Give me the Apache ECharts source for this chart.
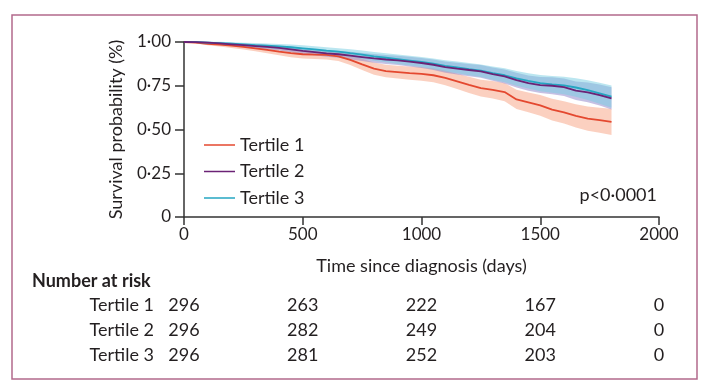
<!DOCTYPE html>
<html>
<head>
<meta charset="utf-8">
<script src="https://cdn.jsdelivr.net/npm/echarts@6/dist/echarts.min.js"></script>
<style>
html,body{margin:0;padding:0;background:#fff;}
#chart{width:711px;height:386px;}
</style>
</head>
<body>
<div id="chart"></div>
<script>
// ---- data ----
const DAYS = [0,50,100,150,200,250,300,350,400,450,500,550,600,650,700,750,800,850,900,950,1000,1050,1100,1150,1200,1250,1300,1350,1400,1450,1500,1550,1600,1650,1700,1750,1800];
const SERIES_NAMES = ['Tertile 1','Tertile 2','Tertile 3'];
const T1 = [1.000,0.996,0.990,0.985,0.979,0.972,0.964,0.955,0.945,0.936,0.930,0.928,0.926,0.918,0.898,0.872,0.848,0.834,0.828,0.822,0.818,0.810,0.795,0.775,0.755,0.736,0.727,0.714,0.672,0.655,0.638,0.614,0.598,0.578,0.562,0.553,0.543];
const T2 = [1.000,0.999,0.996,0.992,0.987,0.982,0.977,0.972,0.966,0.958,0.949,0.942,0.935,0.930,0.922,0.914,0.906,0.900,0.895,0.888,0.880,0.870,0.857,0.848,0.840,0.832,0.816,0.803,0.782,0.765,0.754,0.750,0.742,0.722,0.712,0.697,0.678];
const T3 = [1.000,1.000,0.997,0.994,0.990,0.986,0.982,0.979,0.975,0.970,0.964,0.958,0.951,0.945,0.936,0.928,0.918,0.910,0.902,0.894,0.886,0.876,0.864,0.855,0.845,0.836,0.822,0.810,0.792,0.778,0.765,0.758,0.752,0.740,0.725,0.707,0.688];
const T1_CI = [0,0.004,0.008,0.011,0.013,0.015,0.017,0.019,0.021,0.023,0.024,0.025,0.026,0.027,0.030,0.032,0.035,0.036,0.037,0.038,0.039,0.040,0.042,0.044,0.046,0.048,0.050,0.052,0.055,0.057,0.059,0.062,0.064,0.066,0.069,0.072,0.075];
const T2_CI = [0,0.002,0.005,0.007,0.009,0.010,0.012,0.013,0.014,0.016,0.017,0.018,0.019,0.020,0.022,0.023,0.025,0.026,0.027,0.028,0.029,0.030,0.032,0.033,0.035,0.036,0.038,0.040,0.042,0.044,0.046,0.048,0.050,0.053,0.056,0.060,0.063];
const T3_CI = [0,0.002,0.005,0.007,0.009,0.010,0.012,0.013,0.014,0.016,0.017,0.018,0.019,0.020,0.022,0.023,0.025,0.026,0.027,0.028,0.029,0.030,0.032,0.033,0.035,0.036,0.038,0.040,0.042,0.044,0.046,0.048,0.050,0.053,0.056,0.060,0.063];
const X_TICKS = [0,500,1000,1500,2000];
const RISK_T1 = [296,263,222,167,0];
const RISK_T2 = [296,282,249,204,0];
const RISK_T3 = [296,281,252,203,0];
const P_TEXT = 'p<0·0001';

// ---- styles ----
const FONT = 'Lato, "Noto Sans", sans-serif';
const TXT = '#231f20';
const COLORS = ['#e4482f','#6b2275','#25a6c2'];
const BAND_COLORS = ['rgba(249,176,150,0.6)','rgba(150,140,205,0.55)','rgba(120,205,225,0.5)'];

function zip(xs, ys){ return xs.map((x,i)=>[x, ys[i]]); }

function bandSeries(name, mid, half, color, z){
  return {
    type:'custom', name:name, coordinateSystem:'cartesian2d', silent:true, z:z,
    data:[[0,1]],
    renderItem:function(params, api){
      const top=[], bot=[];
      for(let i=0;i<DAYS.length;i++){
        top.push(api.coord([DAYS[i], mid[i]+half[i]]));
        bot.push(api.coord([DAYS[i], mid[i]-half[i]]));
      }
      return {type:'polygon', shape:{points: top.concat(bot.reverse())}, style:{fill:color}};
    }
  };
}

function lineSeries(name, ys, color, z){
  return {
    type:'line', name:name, data:zip(DAYS, ys), symbol:'none',
    lineStyle:{color:color, width:1.8}, itemStyle:{color:color}, z:z, silent:true
  };
}

const chart = echarts.init(document.getElementById('chart'), null, {renderer:'canvas'});
chart.setOption({
  animation:false,
  backgroundColor:'#fff',
  grid:{left:184, right:52, top:42, bottom:169, containLabel:false},
  xAxis:{
    type:'value', min:0, max:2000, interval:500,
    name:'Time since diagnosis (days)', nameLocation:'middle', nameGap:40,
    nameTextStyle:{fontFamily:FONT, fontSize:18, color:TXT},
    axisLine:{show:true, lineStyle:{color:'#333', width:1.5}},
    axisTick:{show:true, inside:false, length:8, lineStyle:{color:'#333', width:1.5}},
    axisLabel:{fontFamily:FONT, fontSize:17, color:TXT, margin:9,
      formatter:function(v){ return String(v); }},
    splitLine:{show:false}
  },
  yAxis:{
    type:'value', min:0, max:1, interval:0.25,
    name:'Survival probability (%)', nameLocation:'middle', nameGap:59, nameRotate:90,
    nameTextStyle:{fontFamily:FONT, fontSize:18, color:TXT},
    axisLine:{show:true, lineStyle:{color:'#333', width:1.5}},
    axisTick:{show:true, inside:false, length:9, lineStyle:{color:'#333', width:1.5}},
    axisLabel:{fontFamily:FONT, fontSize:17, color:TXT, margin:13,
      formatter:function(v){ return v===0 ? '0' : v.toFixed(2).replace('.','·'); }},
    splitLine:{show:false}
  },
  legend:{
    data: SERIES_NAMES.map((n,i)=>({name:n, icon:'path://M0,6.5L31,6.5L31,8L0,8Z', itemStyle:{color:COLORS[i]}})),
    orient:'vertical', left:204, top:136,
    itemWidth:31, itemHeight:14, itemGap:8.5, padding:0,
    textStyle:{fontFamily:FONT, fontSize:18, color:TXT, padding:[0,0,0,0]},
    selectedMode:false
  },
  series:[
    bandSeries('band1', T1, T1_CI, BAND_COLORS[0], 1),
    bandSeries('band2', T2, T2_CI, BAND_COLORS[1], 2),
    bandSeries('band3', T3, T3_CI, BAND_COLORS[2], 3),
    lineSeries(SERIES_NAMES[0], T1, COLORS[0], 5),
    lineSeries(SERIES_NAMES[2], T3, COLORS[2], 6),
    lineSeries(SERIES_NAMES[1], T2, COLORS[1], 7)
  ]
});

// risk table and annotations
const colX = X_TICKS.map(v => chart.convertToPixel({xAxisIndex:0}, v));
const riskRows = [RISK_T1, RISK_T2, RISK_T3];
const rowY = [305, 330, 355];
const g = [];
g.push({type:'rect', shape:{x:12, y:15, width:685, height:364}, style:{fill:'none', stroke:'#b26a8c', lineWidth:1.5}, silent:true});
g.push({type:'text', x:32, y:281, style:{text:'Number at risk', font:'bold 18px '+FONT, fill:TXT, verticalAlign:'middle'}});
riskRows.forEach((row, r) => {
  g.push({type:'text', x:154, y:rowY[r], style:{text:SERIES_NAMES[r], font:'18px '+FONT, fill:TXT, align:'right', verticalAlign:'middle'}});
  row.forEach((v, c) => {
    g.push({type:'text', x:colX[c], y:rowY[r], style:{text:String(v), font:'18px '+FONT, fill:TXT, align:'center', verticalAlign:'middle'}});
  });
});
g.push({type:'text', x:657, y:195, style:{text:P_TEXT, font:'18px '+FONT, fill:TXT, align:'right', verticalAlign:'middle'}});
chart.setOption({graphic:g});
</script>
</body>
</html>
